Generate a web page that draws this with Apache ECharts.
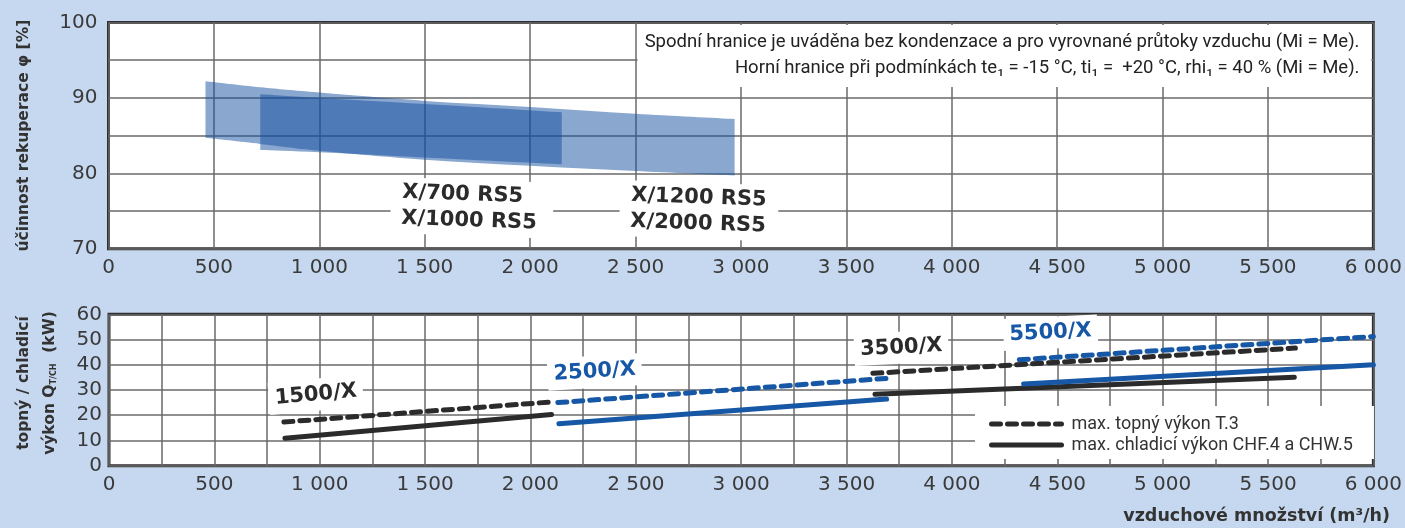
<!DOCTYPE html>
<html><head><meta charset="utf-8">
<script src="https://cdn.jsdelivr.net/npm/echarts@6/dist/echarts.min.js"></script>
<style>html,body{margin:0;padding:0;background:#c6d8ef;}#c{width:1405px;height:528px;}</style>
</head><body><div id="c"></div>
<script>
// ---- data ----
// upper panel: heat recovery efficiency bands [%] vs air flow [m3/h]
const bandA_x     = [460, 720, 1000, 1500, 2000, 2500, 2970];   // X/1200 RS5, X/2000 RS5
const bandA_upper = [92.2, 91.4, 90.7, 89.6, 88.8, 87.9, 87.2];
const bandA_lower = [84.7, 83.9, 83.0, 81.8, 81.0, 80.3, 79.7];
const bandB_x     = [720, 1000, 1500, 2150];                    // X/700 RS5, X/1000 RS5
const bandB_upper = [90.5, 90.0, 89.2, 88.1];
const bandB_lower = [83.1, 82.8, 82.1, 81.2];
// lower panel: heating / cooling capacity [kW] vs air flow [m3/h]
const heat1500 = [[830, 17.3], [2090, 25.2]];
const cool1500 = [[835, 10.9], [2100, 20.3]];
const heat2500 = [[2130, 25.0], [3720, 34.8]];
const cool2500 = [[2135, 16.6], [3690, 26.4]];
const heat3500 = [[3625, 36.6], [5630, 46.6]];
const cool3500 = [[3635, 28.3], [5625, 35.1]];
const heat5500 = [[4320, 42.0], [6000, 51.2]];
const cool5500 = [[4340, 32.4], [6000, 40.0]];
const legendNames = ['max. topný výkon T.3', 'max. chladicí výkon CHF.4 a CHW.5'];

// ---- styles ----
const BLACK = '#2b2b2b', BLUE = '#1657a6', BAND = 'rgba(19,79,159,0.5)';
const GRIDLINE = {color: '#6a6a6a', width: 1.5};
const TICKFONT = {fontFamily: 'DejaVu Sans', fontSize: 20, color: '#3a3a3a'};

function fmt(v) {
  if (v < 1000) return String(v);
  return Math.floor(v / 1000) + ' ' + String(v % 1000).padStart(3, '0');
}
function xAxisFor(g) {
  return {gridIndex: g, type: 'value', min: 0, max: 6000, interval: 500,
    axisLine: {show: false}, axisTick: {show: false},
    minorTick: {show: false, splitNumber: 2},
    minorSplitLine: {show: g === 1, lineStyle: GRIDLINE},
    splitLine: {show: true, lineStyle: GRIDLINE},
    axisLabel: Object.assign({formatter: fmt, margin: 9, interval: 0}, TICKFONT)};
}
// smooth curve through pixel points (Catmull-Rom as cubic Bezier)
function curve(p) {
  let s = '';
  for (let i = 0; i < p.length - 1; i++) {
    const p0 = p[Math.max(i - 1, 0)], p1 = p[i], p2 = p[i + 1], p3 = p[Math.min(i + 2, p.length - 1)];
    const c1 = [p1[0] + (p2[0] - p0[0]) / 6, p1[1] + (p2[1] - p0[1]) / 6];
    const c2 = [p2[0] - (p3[0] - p1[0]) / 6, p2[1] - (p3[1] - p1[1]) / 6];
    s += 'C' + c1.join(',') + ',' + c2.join(',') + ',' + p2.join(',');
  }
  return s;
}
function bandSeries(xs, up, lo) {
  return {type: 'custom', xAxisIndex: 0, yAxisIndex: 0, silent: true, z: 2,
    data: [[xs[0], up[0]]],
    renderItem: function (params, api) {
      const U = xs.map((x, i) => api.coord([x, up[i]]));
      const L = xs.map((x, i) => api.coord([x, lo[i]])).reverse();
      const d = 'M' + U[0].join(',') + curve(U) + 'L' + L[0].join(',') + curve(L) + 'Z';
      return {type: 'path', shape: {pathData: d}, style: {fill: BAND}};
    }};
}
function capLine(name, data, color, dashed) {
  return {type: 'line', name: name, xAxisIndex: 1, yAxisIndex: 1, data: data, symbol: 'none', silent: true,
    lineStyle: {color: color, width: 5, cap: 'round', type: dashed ? [9, 7] : 'solid'},
    itemStyle: {color: color}};
}

const option = {
  animation: false,
  backgroundColor: '#c6d8ef',
  grid: [
    {left: 108.5, top: 22.5, width: 1270.5, height: 226.2, show: true, backgroundColor: '#fff',
     borderColor: '#2e2e2e', borderWidth: 3},
    {left: 109, top: 314.3, width: 1270, height: 151.4, show: true, backgroundColor: '#fff',
     borderColor: '#2e2e2e', borderWidth: 3}
  ],
  xAxis: [xAxisFor(0), xAxisFor(1)],
  yAxis: [
    {gridIndex: 0, type: 'value', min: 70, max: 100, interval: 10,
     axisLine: {show: false}, axisTick: {show: false},
     minorTick: {show: false, splitNumber: 2}, minorSplitLine: {show: true, lineStyle: GRIDLINE},
     splitLine: {show: true, lineStyle: GRIDLINE},
     axisLabel: Object.assign({margin: 11}, TICKFONT)},
    {gridIndex: 1, type: 'value', min: 0, max: 60, interval: 10,
     axisLine: {show: false}, axisTick: {show: false},
     splitLine: {show: true, lineStyle: GRIDLINE},
     axisLabel: Object.assign({margin: 7}, TICKFONT)}
  ],
  legend: {
    data: legendNames, orient: 'vertical', left: 975, top: 406, selectedMode: false,
    backgroundColor: '#fff', padding: [9, 21, 5, 14], itemWidth: 70, itemHeight: 6, itemGap: 3,
    lineStyle: {width: 5}, itemStyle: {opacity: 0},
    textStyle: {fontFamily: 'Roboto', fontSize: 18, color: '#333', padding: [0, 0, 0, 5]}
  },
  series: [
    bandSeries(bandA_x, bandA_upper, bandA_lower),
    bandSeries(bandB_x, bandB_upper, bandB_lower),
    capLine(legendNames[0], heat1500, BLACK, true),
    capLine(legendNames[1], cool1500, BLACK, false),
    capLine('2500/X T.3', heat2500, BLUE, true),
    capLine('2500/X CH', cool2500, BLUE, false),
    capLine(legendNames[0], heat3500, BLACK, true),
    capLine(legendNames[1], cool3500, BLACK, false),
    capLine('5500/X T.3', heat5500, BLUE, true),
    capLine('5500/X CH', cool5500, BLUE, false)
  ]
};

const chart = echarts.init(document.getElementById('c'));
chart.setOption(option);

function P(g, x, y) { return chart.convertToPixel({gridIndex: g}, [x, y]); }
const BOLD = 'bold 21px "DejaVu Sans"';
const NAMEFONT = 'bold 15.5px "DejaVu Sans"';
function boxLabel(pt, text, color, rot, align, pad) {
  return {type: 'text', x: pt[0], y: pt[1], rotation: rot, z: 5,
    style: {text: text, font: BOLD, fill: color, backgroundColor: '#fff', padding: pad,
            align: align, verticalAlign: 'middle', lineHeight: 26}};
}
const a0 = P(0, 2500, 100), a1 = P(0, 6000, 91.45);
const g0 = P(0, 0, 100), g0b = P(0, 0, 70);
const g1 = P(1, 0, 60), g1b = P(1, 0, 0);
chart.setOption({graphic: [
  {type: 'rect', z: 4, shape: {x: a0[0] + 2, y: a0[1] + 2.5, width: a1[0] - a0[0] - 4, height: a1[1] - a0[1] - 2.5},
   style: {fill: '#fff'}},
  {type: 'text', z: 5, x: P(0, 5934, 0)[0], y: (a0[1] + a1[1]) / 2 + 1,
   style: {text: 'Spodní hranice je uváděna bez kondenzace a pro vyrovnané průtoky vzduchu (Mi = Me).\nHorní hranice při podmínkách te₁ = -15 °C, ti₁ =  +20 °C, rhi₁ = 40 % (Mi = Me).',
           font: '18.5px Roboto', fill: '#222', align: 'right', verticalAlign: 'middle', lineHeight: 26}},
  boxLabel(P(0, 1339, 75.8), 'X/700 RS5\nX/1000 RS5', BLACK, -0.035, 'left', [2, 16, 2, 11]),
  boxLabel(P(0, 2425, 75.4), 'X/1200 RS5\nX/2000 RS5', BLACK, -0.035, 'left', [2, 12, 2, 11]),
  boxLabel(P(1, 982, 28.1), '1500/X', BLACK, 0.09, 'center', [3, 6, 3, 6]),
  boxLabel(P(1, 2305, 37.2), '2500/X', BLUE, 0.06, 'center', [3, 6, 3, 6]),
  boxLabel(P(1, 3760, 46.8), '3500/X', BLACK, 0.05, 'center', [3, 6, 3, 6]),
  boxLabel(P(1, 4468, 52.7), '5500/X', BLUE, 0.05, 'center', [3, 6, 3, 6]),
  {type: 'text', z: 5, x: 24, y: (g0[1] + g0b[1]) / 2, rotation: Math.PI / 2,
   style: {text: 'účinnost rekuperace φ [%]', font: NAMEFONT, fill: '#333', align: 'center', verticalAlign: 'middle'}},
  {type: 'text', z: 5, x: 37, y: (g1[1] + g1b[1]) / 2 - 7, rotation: Math.PI / 2,
   style: {text: 'topný / chladicí\nvýkon Q{s|T/CH}  (kW)', font: NAMEFONT, fill: '#333',
           align: 'center', verticalAlign: 'middle', lineHeight: 26,
           rich: {s: {font: 'bold 8px "DejaVu Sans"', fill: '#333', padding: [8, 0, 0, 0]}}}},
  {type: 'text', z: 5, x: 1390, y: 516,
   style: {text: 'vzduchové množství (m³/h)', font: 'bold 17.5px "DejaVu Sans"', fill: '#333', align: 'right', verticalAlign: 'middle'}}
]});
</script>
</body></html>
